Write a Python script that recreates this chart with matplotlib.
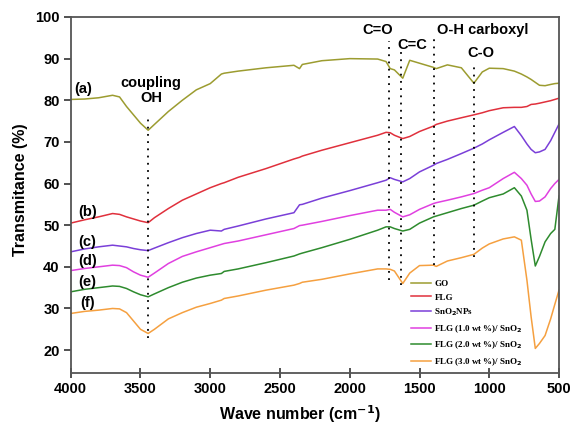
import matplotlib
matplotlib.use('Agg')
import matplotlib.pyplot as plt

# FTIR spectra (wave number in cm-1, transmittance in %)
wave_number = [4000, 3900, 3800, 3700, 3650, 3600, 3550, 3500, 3445, 3400,
               3300, 3200, 3100, 3000, 2920, 2900, 2800, 2600, 2400, 2360,
               2340, 2200, 2000, 1800, 1740, 1710, 1680, 1620, 1570, 1500,
               1400, 1380, 1300, 1200, 1110, 1050, 1000, 900, 820, 770,
               730, 700, 670, 640, 600, 560, 530, 500]

go = [80.2, 80.3, 80.6, 81.2, 80.8, 78.5, 76.5, 74.5, 72.8, 74.2,
      77.3, 80.0, 82.5, 84.0, 86.3, 86.5, 87.0, 87.8, 88.4, 87.6,
      88.6, 89.5, 90.0, 89.9, 89.3, 87.6, 87.3, 85.3, 89.6, 88.9,
      87.9, 87.6, 88.5, 87.8, 84.1, 86.8, 87.7, 87.6, 87.0, 86.3,
      85.6, 85.0, 84.3, 83.6, 83.5, 83.8, 84.0, 84.1]

flg = [50.5, 51.3, 52.0, 52.8, 52.6, 52.0, 51.5, 51.0, 50.6, 51.8,
       54.0, 56.0, 57.5, 59.0, 60.0, 60.2, 61.5, 63.6, 65.9, 66.3,
       66.6, 68.0, 69.8, 71.6, 72.3, 72.2, 71.6, 70.8, 71.3, 72.5,
       73.8, 74.2, 75.0, 75.8, 76.5, 77.0, 77.5, 78.2, 78.3, 78.3,
       78.5, 79.0, 79.1, 79.3, 79.6, 79.9, 80.2, 80.5]

sno2 = [43.6, 44.3, 44.8, 45.2, 45.0, 44.8, 44.4, 44.1, 43.9, 44.5,
        45.8, 47.0, 48.0, 48.8, 48.6, 49.0, 49.8, 51.5, 53.0, 54.9,
        55.0, 56.5, 58.3, 60.2, 60.8, 61.4, 61.0, 60.4, 61.2, 62.8,
        64.4, 64.8, 65.8, 67.2, 68.5, 69.5, 70.5, 72.3, 73.7, 71.5,
        69.5, 68.2, 67.4, 67.6, 68.2, 70.3, 72.3, 74.3]

flg_1 = [39.1, 39.6, 40.0, 40.4, 40.3, 39.8, 38.8, 38.0, 37.5, 38.5,
         40.8, 42.5, 43.6, 44.6, 45.4, 45.6, 46.2, 47.7, 49.2, 49.9,
         50.0, 50.9, 52.3, 53.6, 53.6, 53.8, 53.1, 52.0, 52.5, 53.8,
         55.2, 55.4, 56.0, 56.8, 57.6, 58.4, 59.0, 61.2, 62.7, 61.2,
         59.6, 57.5, 55.7, 55.8, 56.8, 58.8, 60.0, 61.0]

flg_2 = [34.0, 34.6, 35.0, 35.4, 35.3, 34.8, 34.0, 33.3, 32.8, 33.5,
         35.0, 36.3, 37.3, 38.0, 38.4, 38.9, 39.5, 41.0, 42.6, 43.1,
         43.3, 44.6, 46.6, 48.8, 49.6, 49.6, 49.2, 48.6, 49.0, 50.5,
         52.0, 52.2, 53.0, 54.0, 54.8, 55.8, 56.6, 57.5, 59.0, 57.0,
         53.6, 46.6, 40.2, 42.5, 46.0, 48.0, 49.0, 57.0]

flg_3 = [28.8, 29.3, 29.6, 30.0, 29.9, 29.0, 27.0, 25.0, 24.0, 25.0,
         27.5, 29.0, 30.3, 31.2, 32.0, 32.4, 33.0, 34.4, 35.6, 36.0,
         36.3, 37.0, 38.3, 39.5, 39.5, 39.4, 39.0, 36.0, 38.5, 40.3,
         40.4, 40.1, 41.4, 42.2, 43.0, 44.5, 45.5, 46.7, 47.2, 46.4,
         36.8, 28.0, 20.4, 21.6, 23.5, 27.5, 31.0, 34.4]

series_names = ['GO', 'FLG', 'SnO$_2$NPs', 'FLG (1.0 wt %)/ SnO$_2$',
                'FLG (2.0 wt %)/ SnO$_2$', 'FLG (3.0 wt %)/ SnO$_2$']
series_tags = ['(a)', '(b)', '(c)', '(d)', '(e)', '(f)']
colors = ['#9c9c30', '#e0303c', '#7a3fd8', '#e040e0', '#2e8b2e', '#f5a040']

# assigned bands, dotted guide lines
band_wn = [3445, 1720, 1632, 1393, 1110]
band_top = [76.5, 94.2, 91.5, 95.6, 88.9]
band_bottom = [22.9, 36.8, 35.6, 40.4, 42.4]

plt.rcParams['font.family'] = 'Liberation Sans'
plt.rcParams['font.weight'] = 'bold'
plt.rcParams['mathtext.default'] = 'bf'

fig = plt.figure(figsize=(5.74, 4.29), dpi=100)
ax = fig.add_axes([0.1232, 0.1305, 0.8507, 0.8299])

spectra = [go, flg, sno2, flg_1, flg_2, flg_3]
for vals, name, c in zip(spectra, series_names, colors):
    ax.plot(wave_number, vals, '-', color=c, lw=1.1, label=name)

ax.vlines(band_wn, band_bottom, band_top, colors='black',
          linestyles=(0, (1, 3)), lw=1.3)

# band labels
ax.text(3425, 82.3, 'coupling\nOH', ha='center', va='center', fontsize=10.5,
        fontweight='bold', linespacing=1.1)
ax.text(1802, 96.9, 'C=O', ha='center', va='center', fontsize=10.5, fontweight='bold')
ax.text(1548, 93.3, 'C=C', ha='center', va='center', fontsize=10.5, fontweight='bold')
ax.text(1047, 96.9, 'O-H carboxyl', ha='center', va='center', fontsize=10.5, fontweight='bold')
ax.text(1057, 91.4, 'C-O', ha='center', va='center', fontsize=10.5, fontweight='bold')

tag_y = [82.7, 53.2, 46.0, 41.4, 36.3, 31.3]
tag_x = [3912, 3876, 3880, 3880, 3880, 3880]
for tx, ty, t in zip(tag_x, tag_y, series_tags):
    ax.text(tx, ty, t, ha='center', va='center', fontsize=10.5, fontweight='bold')

ax.set_xlim(4000, 500)
ax.set_ylim(14.5, 100)
ax.set_xticks([4000, 3500, 3000, 2500, 2000, 1500, 1000, 500])
ax.set_yticks([20, 30, 40, 50, 60, 70, 80, 90, 100])
ax.tick_params(axis='x', direction='inout', length=7, width=1.2, pad=3,
               labelsize=10.5, colors='#333333', labelcolor='black')
ax.tick_params(axis='y', direction='out', length=5, width=1.2, pad=3,
               labelsize=10.5, colors='#333333', labelcolor='black')
for sp in ax.spines.values():
    sp.set_color('#555555')
    sp.set_linewidth(1.3)

ax.set_xlabel('Wave number (cm$^{-1}$)', fontsize=11.5, fontweight='bold')
ax.set_ylabel('Transmitance (%)', fontsize=11.5, fontweight='bold')
ax.xaxis.set_label_coords(0.47, -0.085)
ax.yaxis.set_label_coords(-0.088, 0.514)

ax.legend(loc='upper left', bbox_to_anchor=(411 / 574, 1 - 280 / 429),
          bbox_transform=fig.transFigure, frameon=False, borderpad=0,
          borderaxespad=0, handlelength=2.2, handletextpad=0.4,
          labelspacing=0.55,
          prop={'family': 'Liberation Serif', 'weight': 'bold', 'size': 6.5})

fig.savefig('out.png', dpi=100)
